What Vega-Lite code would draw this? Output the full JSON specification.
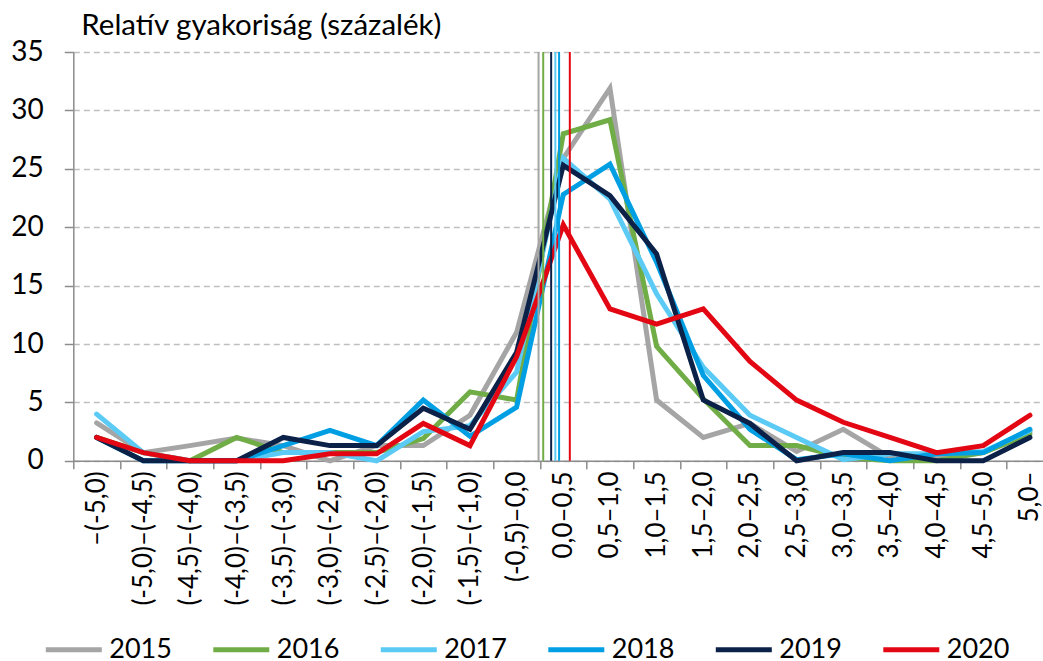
{
  "$schema": "https://vega.github.io/schema/vega-lite/v6.json",
  "width": 969.7,
  "height": 408.8,
  "autosize": {"type": "none"},
  "padding": {"left": 73.3, "top": 52, "right": 0, "bottom": 200.2},
  "background": "white",
  "config": {
    "font": "Lato",
    "view": {"stroke": null},
    "legend": {
      "orient": "none",
      "legendX": -30,
      "legendY": 567,
      "direction": "horizontal",
      "columns": 6,
      "symbolType": "stroke",
      "symbolStrokeWidth": 5,
      "symbolSize": 3136,
      "labelFontSize": 27,
      "labelFont": "Lato",
      "labelColor": "#000000",
      "labelOffset": 5,
      "columnPadding": 30.5,
      "title": null
    }
  },
  "title": {
    "text": "Relatív gyakoriság (százalék)",
    "anchor": "start",
    "frame": "group",
    "font": "Lato",
    "fontSize": 29.5,
    "fontWeight": "normal",
    "color": "#000000",
    "offset": -3,
    "dx": 8
  },
  "datasets": {
    "series": [
      {"c":0,"year":"2015","v":3.25},{"c":1,"year":"2015","v":0.7},{"c":2,"year":"2015","v":1.3},{"c":3,"year":"2015","v":1.95},{"c":4,"year":"2015","v":1.3},{"c":5,"year":"2015","v":0.0},{"c":6,"year":"2015","v":1.3},{"c":7,"year":"2015","v":1.3},{"c":8,"year":"2015","v":3.9},{"c":9,"year":"2015","v":11.0},{"c":10,"year":"2015","v":25.9},{"c":11,"year":"2015","v":31.9},{"c":12,"year":"2015","v":5.2},{"c":13,"year":"2015","v":2.0},{"c":14,"year":"2015","v":3.2},{"c":15,"year":"2015","v":0.8},{"c":16,"year":"2015","v":2.7},{"c":17,"year":"2015","v":0.3},{"c":18,"year":"2015","v":0.3},{"c":19,"year":"2015","v":0.7},{"c":20,"year":"2015","v":2.5},
      {"c":0,"year":"2016","v":2.0},{"c":1,"year":"2016","v":0.7},{"c":2,"year":"2016","v":0.0},{"c":3,"year":"2016","v":2.0},{"c":4,"year":"2016","v":0.7},{"c":5,"year":"2016","v":0.7},{"c":6,"year":"2016","v":0.7},{"c":7,"year":"2016","v":1.9},{"c":8,"year":"2016","v":5.9},{"c":9,"year":"2016","v":5.2},{"c":10,"year":"2016","v":28.0},{"c":11,"year":"2016","v":29.2},{"c":12,"year":"2016","v":9.8},{"c":13,"year":"2016","v":5.3},{"c":14,"year":"2016","v":1.3},{"c":15,"year":"2016","v":1.3},{"c":16,"year":"2016","v":0.3},{"c":17,"year":"2016","v":0.0},{"c":18,"year":"2016","v":0.0},{"c":19,"year":"2016","v":0.7},{"c":20,"year":"2016","v":2.3},
      {"c":0,"year":"2017","v":4.0},{"c":1,"year":"2017","v":0.7},{"c":2,"year":"2017","v":0.0},{"c":3,"year":"2017","v":0.0},{"c":4,"year":"2017","v":0.7},{"c":5,"year":"2017","v":0.7},{"c":6,"year":"2017","v":0.0},{"c":7,"year":"2017","v":2.5},{"c":8,"year":"2017","v":3.0},{"c":9,"year":"2017","v":7.6},{"c":10,"year":"2017","v":25.9},{"c":11,"year":"2017","v":22.4},{"c":12,"year":"2017","v":14.3},{"c":13,"year":"2017","v":8.0},{"c":14,"year":"2017","v":3.9},{"c":15,"year":"2017","v":2.0},{"c":16,"year":"2017","v":0.1},{"c":17,"year":"2017","v":0.6},{"c":18,"year":"2017","v":0.6},{"c":19,"year":"2017","v":0.8},{"c":20,"year":"2017","v":2.6},
      {"c":0,"year":"2018","v":2.0},{"c":1,"year":"2018","v":0.0},{"c":2,"year":"2018","v":0.0},{"c":3,"year":"2018","v":0.0},{"c":4,"year":"2018","v":1.3},{"c":5,"year":"2018","v":2.6},{"c":6,"year":"2018","v":1.3},{"c":7,"year":"2018","v":5.2},{"c":8,"year":"2018","v":2.1},{"c":9,"year":"2018","v":4.6},{"c":10,"year":"2018","v":22.8},{"c":11,"year":"2018","v":25.4},{"c":12,"year":"2018","v":17.0},{"c":13,"year":"2018","v":7.3},{"c":14,"year":"2018","v":2.7},{"c":15,"year":"2018","v":0.1},{"c":16,"year":"2018","v":0.6},{"c":17,"year":"2018","v":0.0},{"c":18,"year":"2018","v":0.6},{"c":19,"year":"2018","v":0.7},{"c":20,"year":"2018","v":2.7},
      {"c":0,"year":"2019","v":2.0},{"c":1,"year":"2019","v":0.0},{"c":2,"year":"2019","v":0.0},{"c":3,"year":"2019","v":0.0},{"c":4,"year":"2019","v":2.0},{"c":5,"year":"2019","v":1.3},{"c":6,"year":"2019","v":1.3},{"c":7,"year":"2019","v":4.5},{"c":8,"year":"2019","v":2.7},{"c":9,"year":"2019","v":9.3},{"c":10,"year":"2019","v":25.3},{"c":11,"year":"2019","v":22.7},{"c":12,"year":"2019","v":17.7},{"c":13,"year":"2019","v":5.2},{"c":14,"year":"2019","v":3.2},{"c":15,"year":"2019","v":0.0},{"c":16,"year":"2019","v":0.7},{"c":17,"year":"2019","v":0.7},{"c":18,"year":"2019","v":0.0},{"c":19,"year":"2019","v":0.0},{"c":20,"year":"2019","v":2.0},
      {"c":0,"year":"2020","v":2.0},{"c":1,"year":"2020","v":0.7},{"c":2,"year":"2020","v":0.0},{"c":3,"year":"2020","v":0.0},{"c":4,"year":"2020","v":0.0},{"c":5,"year":"2020","v":0.6},{"c":6,"year":"2020","v":0.6},{"c":7,"year":"2020","v":3.2},{"c":8,"year":"2020","v":1.3},{"c":9,"year":"2020","v":8.9},{"c":10,"year":"2020","v":20.2},{"c":11,"year":"2020","v":13.0},{"c":12,"year":"2020","v":11.7},{"c":13,"year":"2020","v":13.0},{"c":14,"year":"2020","v":8.5},{"c":15,"year":"2020","v":5.2},{"c":16,"year":"2020","v":3.3},{"c":17,"year":"2020","v":2.0},{"c":18,"year":"2020","v":0.7},{"c":19,"year":"2020","v":1.3},{"c":20,"year":"2020","v":3.9}
    ],
    "means": [
      {"year":"2015","m":9.47},
      {"year":"2016","m":9.57},
      {"year":"2017","m":9.83},
      {"year":"2018","m":9.91},
      {"year":"2019","m":9.74},
      {"year":"2020","m":10.14}
    ]
  },
  "layer": [
    {
      "data": {"name": "series"},
      "mark": {"type": "line", "strokeWidth": 5, "strokeCap": "round"},
      "encoding": {
        "x": {
          "field": "c",
          "type": "quantitative",
          "scale": {"domain": [-0.5, 20.28], "nice": false, "zero": false},
          "axis": {
            "title": null,
            "grid": false,
            "values": [0,1,2,3,4,5,6,7,8,9,10,11,12,13,14,15,16,17,18,19,20],
            "labelExpr": "datum.value == 0 ? '–(-5,0)' : datum.value == 1 ? '(-5,0)–(-4,5)' : datum.value == 2 ? '(-4,5)–(-4,0)' : datum.value == 3 ? '(-4,0)–(-3,5)' : datum.value == 4 ? '(-3,5)–(-3,0)' : datum.value == 5 ? '(-3,0)–(-2,5)' : datum.value == 6 ? '(-2,5)–(-2,0)' : datum.value == 7 ? '(-2,0)–(-1,5)' : datum.value == 8 ? '(-1,5)–(-1,0)' : datum.value == 9 ? '(-0,5)–0,0' : datum.value == 10 ? '0,0–0,5' : datum.value == 11 ? '0,5–1,0' : datum.value == 12 ? '1,0–1,5' : datum.value == 13 ? '1,5–2,0' : datum.value == 14 ? '2,0–2,5' : datum.value == 15 ? '2,5–3,0' : datum.value == 16 ? '3,0–3,5' : datum.value == 17 ? '3,5–4,0' : datum.value == 18 ? '4,0–4,5' : datum.value == 19 ? '4,5–5,0' : '5,0–'",
            "labelAngle": -90,
            "labelAlign": "right",
            "labelBaseline": "middle",
            "labelFont": "Lato",
            "labelFontSize": 26,
            "labelColor": "#000000",
            "labelPadding": 2,
            "labelOffset": 23.33,
            "labelOverlap": false,
            "labelFlush": false,
            "labelLimit": 400,
            "tickSize": 8,
            "tickWidth": 1.5,
            "tickColor": "#8C8C8C",
            "tickOffset": -23.33,
            "domainColor": "#8C8C8C",
            "domainWidth": 1.5
          }
        },
        "y": {
          "field": "v",
          "type": "quantitative",
          "scale": {"domain": [0, 35], "nice": false},
          "axis": {
            "title": null,
            "values": [0,5,10,15,20,25,30,35],
            "grid": true,
            "gridDash": [6, 4],
            "gridColor": "#BFBFBF",
            "gridWidth": 1.5,
            "tickSize": 9,
            "tickWidth": 1.5,
            "tickColor": "#8C8C8C",
            "labelFont": "Lato",
            "labelFontSize": 28,
            "labelColor": "#000000",
            "labelPadding": 21,
            "domainColor": "#8C8C8C",
            "domainWidth": 1.5
          }
        },
        "color": {
          "field": "year",
          "type": "nominal",
          "scale": {
            "domain": ["2015","2016","2017","2018","2019","2020"],
            "range": ["#A5A5A5","#70AD47","#5BCBF5","#009FE3","#0C2148","#E30613"]
          }
        }
      }
    },
    {
      "data": {"name": "means"},
      "mark": {"type": "rule", "strokeWidth": 2},
      "encoding": {
        "x": {"field": "m", "type": "quantitative"},
        "color": {"field": "year", "type": "nominal"}
      }
    }
  ]
}
